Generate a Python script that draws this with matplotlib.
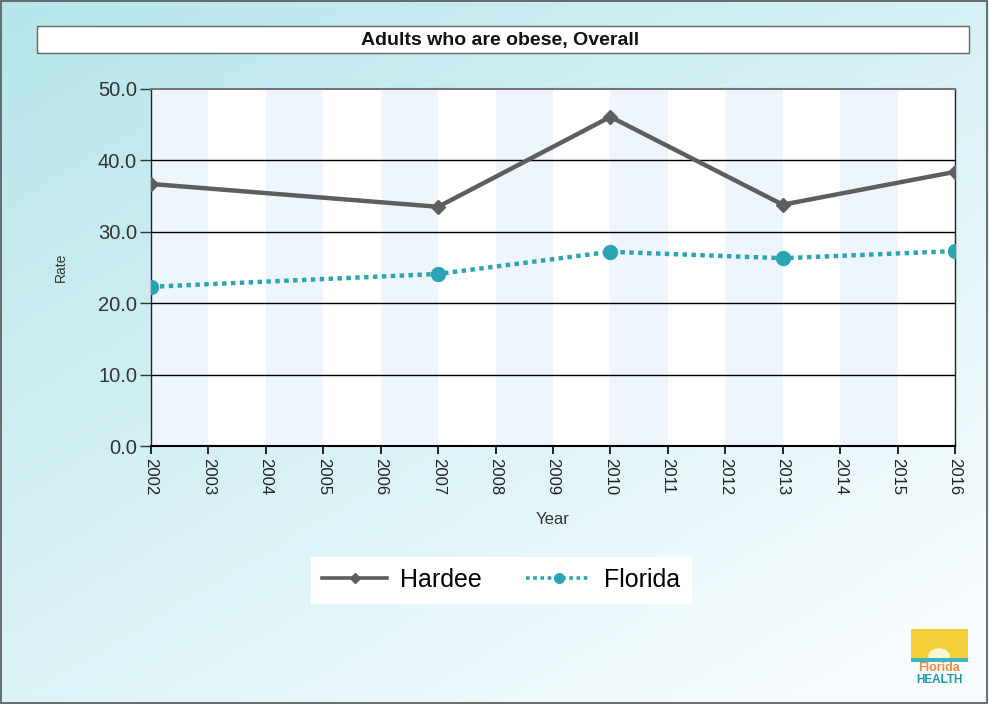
import numpy as np
import matplotlib.pyplot as plt
from matplotlib.patches import Rectangle, Circle

plt.rcParams['font.family'] = ['Liberation Sans', 'DejaVu Sans']

years = [2002, 2007, 2010, 2013, 2016]
hardee = [36.7, 33.5, 46.1, 33.8, 38.4]
florida = [22.3, 24.1, 27.2, 26.3, 27.3]
year_ticks = list(range(2002, 2017))
rate_ticks = [0, 10, 20, 30, 40, 50]

fig = plt.figure(figsize=(9.89, 7.04), dpi=100)

# background gradient, cyan at top left fading to white at bottom right
bg = fig.add_axes([0, 0, 1, 1], zorder=-10)
yy, xx = np.mgrid[0:1:200j, 0:1:200j]
t = np.clip(0.5 * xx + 0.6 * yy, 0, 1)
c0 = np.array([0.71, 0.90, 0.92])
c1 = np.array([0.97, 0.99, 1.0])
img = c0[None, None, :] * (1 - t[..., None]) + c1[None, None, :] * t[..., None]
bg.imshow(img, extent=[0, 1, 0, 1], origin='upper', aspect='auto')
bg.add_patch(Rectangle((0.001, 0.001), 0.997, 0.997, fill=False, ec='#555555', lw=1.2))
bg.set_xlim(0, 1)
bg.set_ylim(0, 1)
bg.axis('off')

# title box
bg.add_patch(Rectangle((37/989, 1 - 53/704), (969-37)/989, 27/704, fc='white', ec='#666666', lw=1))
bg.text(500/989, 1 - 40/704, 'Adults who are obese, Overall', ha='center', va='center',
        fontsize=14, fontweight='bold', color='#111111')

ax = fig.add_axes([151/989, 258/704, 804/989, 357/704])
ax.set_xlim(2002, 2016)
ax.set_ylim(0, 50)

# alternating column bands
for y0 in year_ticks[:-1]:
    col = '#eff5fd' if (y0 - 2002) % 2 == 0 else 'white'
    ax.axvspan(y0, y0 + 1, color=col, lw=0, zorder=0)

for v in rate_ticks[1:-1]:
    ax.axhline(v, color='black', lw=1, zorder=1)

ax.plot(years, hardee, color='#5e5e5e', lw=3.2, marker='D', ms=7, zorder=3, label='Hardee')
ax.plot(years, florida, color='#2ba5b3', lw=3.2, ls=(0, (1, 1)), marker='o', ms=10, zorder=3,
        label='Florida')

for side in ['left', 'right']:
    ax.spines[side].set_linestyle((0, (1, 1)))
    ax.spines[side].set_color('#222222')
    ax.spines[side].set_linewidth(1)
ax.spines['top'].set_color('#777777')
ax.spines['top'].set_linewidth(1.5)
ax.spines['bottom'].set_color('black')
ax.spines['bottom'].set_linewidth(1.5)

ax.set_xticks(year_ticks)
ax.set_xticklabels([str(y) for y in year_ticks], rotation=270, fontsize=12, color='#222222')
ax.set_yticks(rate_ticks)
ax.set_yticklabels([f'{v:.1f}' for v in rate_ticks], fontsize=14.5, color='#333333')
ax.tick_params(axis='x', length=6, width=1.2, pad=3, color='black')
ax.tick_params(axis='y', length=8, width=1, pad=2, color='#333333')
ax.set_xlabel('Year', fontsize=12, color='#333333', labelpad=12)
ax.set_ylabel('Rate', fontsize=10, color='#333333', labelpad=22)

leg = fig.legend(loc='center', bbox_to_anchor=(501/989, 1 - 580/704), ncol=2, fontsize=18,
                 frameon=True, fancybox=False, edgecolor='white', framealpha=1,
                 handlelength=2.6, columnspacing=1.8, borderpad=0.45, handletextpad=0.5,
                 markerscale=0.7)
for h in leg.get_lines():
    h.set_linewidth(2.6)

# small agency logo in the lower right
bg.add_patch(Rectangle((911/989, 1 - 659/704), 57/989, 30/704, fc='#f4cf3c', ec='none'))
bg.add_patch(Circle((939/989, 1 - 656/704), 0.011, fc='#fff6cf', ec='none'))
bg.add_patch(Rectangle((911/989, 1 - 662/704), 57/989, 4/704, fc='#3fb5c0', ec='none'))
bg.text(939/989, 1 - 668/704, 'Florida', ha='center', va='center', fontsize=9,
        color='#f08a3c', fontweight='bold')
bg.text(939/989, 1 - 680/704, 'HEALTH', ha='center', va='center', fontsize=8.5,
        color='#1b9aa8', fontweight='bold')

fig.savefig('out.png', dpi=100)
